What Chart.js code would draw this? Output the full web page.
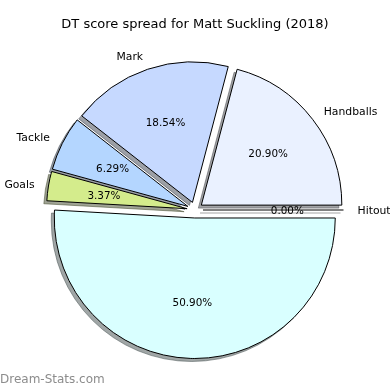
<!DOCTYPE html>
<html>
<head>
<meta charset="utf-8">
<script src="https://cdn.jsdelivr.net/npm/chart.js@4/dist/chart.umd.min.js"></script>
<style>
  html, body { margin: 0; padding: 0; background: #fff; }
  #wrap { width: 390px; height: 390px; position: relative; }
</style>
</head>
<body>
<div id="wrap"><canvas id="grafico" width="390" height="390"></canvas></div>
<script>
// Dati (ordine antiorario partendo da est, come nell'originale)
var categorie = ["Handballs", "Mark", "Tackle", "Goals", "Kicks", "Hitout"];
var etichetteVisibili = [true, true, true, true, false, true];
var percentuali = [20.90, 18.54, 6.29, 3.37, 50.90, 0.00];
var colori = ["#eaf1ff", "#c6d9ff", "#b4d6ff", "#d4ec8c", "#d9ffff", "#eeeeee"];
var titolo = "DT score spread for Matt Suckling (2018)";
var firma = "Dream-Stats.com";

// Stili
var ESPLODI = 8;          // distanza di ogni fetta dal centro
var OMBRA_X = -3, OMBRA_Y = 3;

// Chart.js disegna in senso orario, quindi inverto l'ordine
var ordine = categorie.map((c, i) => i).reverse();

function scurisci(hex) {
    let r = parseInt(hex.substr(1, 2), 16), g = parseInt(hex.substr(3, 2), 16), b = parseInt(hex.substr(5, 2), 16);
    return `rgba(${Math.round(r * .3)},${Math.round(g * .3)},${Math.round(b * .3)},0.5)`;
}

// Plugin: fette esplose con ombra (stile matplotlib)
var pluginEsploso = {
    id: 'esploso',
    beforeDatasetDraw(chart, args) {
        const ctx = chart.ctx;
        const archi = args.meta.data;

        //Prima tutte le ombre
        archi.forEach((arco, j) => {
            const i = ordine[j];
            const mid = (arco.startAngle + arco.endAngle) / 2;
            const cx = arco.x + Math.cos(mid) * ESPLODI + OMBRA_X;
            const cy = arco.y + Math.sin(mid) * ESPLODI + OMBRA_Y;
            ctx.save();
            ctx.fillStyle = scurisci(colori[i]);
            ctx.strokeStyle = scurisci(colori[i]);
            ctx.lineWidth = 1;
            ctx.beginPath();
            ctx.moveTo(cx, cy);
            if (arco.endAngle - arco.startAngle > 0) {
                ctx.arc(cx, cy, arco.outerRadius, arco.startAngle, arco.endAngle);
                ctx.closePath();
                ctx.fill();
            } else {
                ctx.lineTo(cx + Math.cos(mid) * arco.outerRadius, cy + Math.sin(mid) * arco.outerRadius);
            }
            ctx.stroke();
            ctx.restore();
        });

        //Poi le fette
        archi.forEach(arco => {
            const mid = (arco.startAngle + arco.endAngle) / 2;
            const dx = Math.cos(mid) * ESPLODI, dy = Math.sin(mid) * ESPLODI;
            ctx.save();
            ctx.translate(dx, dy);
            if (arco.endAngle - arco.startAngle > 0) {
                arco.draw(ctx, chart.chartArea);
            } else {
                ctx.strokeStyle = "#000";
                ctx.lineWidth = 1;
                ctx.beginPath();
                ctx.moveTo(arco.x, arco.y);
                ctx.lineTo(arco.x + Math.cos(mid) * arco.outerRadius, arco.y + Math.sin(mid) * arco.outerRadius);
                ctx.stroke();
            }
            ctx.restore();
        });
        return false;
    },
    afterDraw(chart) {
        const ctx = chart.ctx;
        const archi = chart.getDatasetMeta(0).data;
        ctx.save();
        ctx.fillStyle = "#000";
        ctx.textBaseline = "middle";

        archi.forEach((arco, j) => {
            const i = ordine[j];
            const mid = (arco.startAngle + arco.endAngle) / 2;
            const cx = arco.x + Math.cos(mid) * ESPLODI;
            const cy = arco.y + Math.sin(mid) * ESPLODI;
            const R = arco.outerRadius;

            //Etichetta esterna
            if (etichetteVisibili[i]) {
                const lx = cx + Math.cos(mid) * R * 1.1;
                const ly = cy + Math.sin(mid) * R * 1.1 + 1.5;
                ctx.font = "10.8px 'DejaVu Sans'";
                ctx.textAlign = Math.cos(mid) > 0 ? "left" : "right";
                ctx.fillText(categorie[i], lx, ly);
            }

            //Percentuale interna
            const px = cx + Math.cos(mid) * R * 0.6;
            const py = cy + Math.sin(mid) * R * 0.6 + 1;
            ctx.font = "10.4px 'DejaVu Sans'";
            ctx.textAlign = "center";
            ctx.fillText(percentuali[i].toFixed(2) + "%", px, py);
        });

        //Titolo
        ctx.font = "13px 'DejaVu Sans'";
        ctx.textAlign = "center";
        ctx.fillText(titolo, 195, 25);

        //Firma
        ctx.font = "12px 'DejaVu Sans'";
        ctx.fillStyle = "#8c8c8c";
        ctx.textAlign = "left";
        ctx.fillText(firma, 0, 380);
        ctx.restore();
    }
};

new Chart(document.getElementById("grafico").getContext('2d'), {
    type: 'pie',
    data: {
        labels: ordine.map(i => categorie[i]),
        datasets: [{
            data: ordine.map(i => percentuali[i]),
            backgroundColor: ordine.map(i => colori[i]),
            borderColor: "#000",
            borderWidth: 1,
            hoverOffset: 0,
            offset: 0
        }]
    },
    options: {
        responsive: false,
        animation: false,
        events: [],
        rotation: 90,
        layout: { padding: { top: 69, bottom: 39, left: 50, right: 50 } },
        plugins: {
            legend: { display: false },
            tooltip: { enabled: false },
            title: { display: false }
        }
    },
    plugins: [pluginEsploso]
});
</script>
</body>
</html>
